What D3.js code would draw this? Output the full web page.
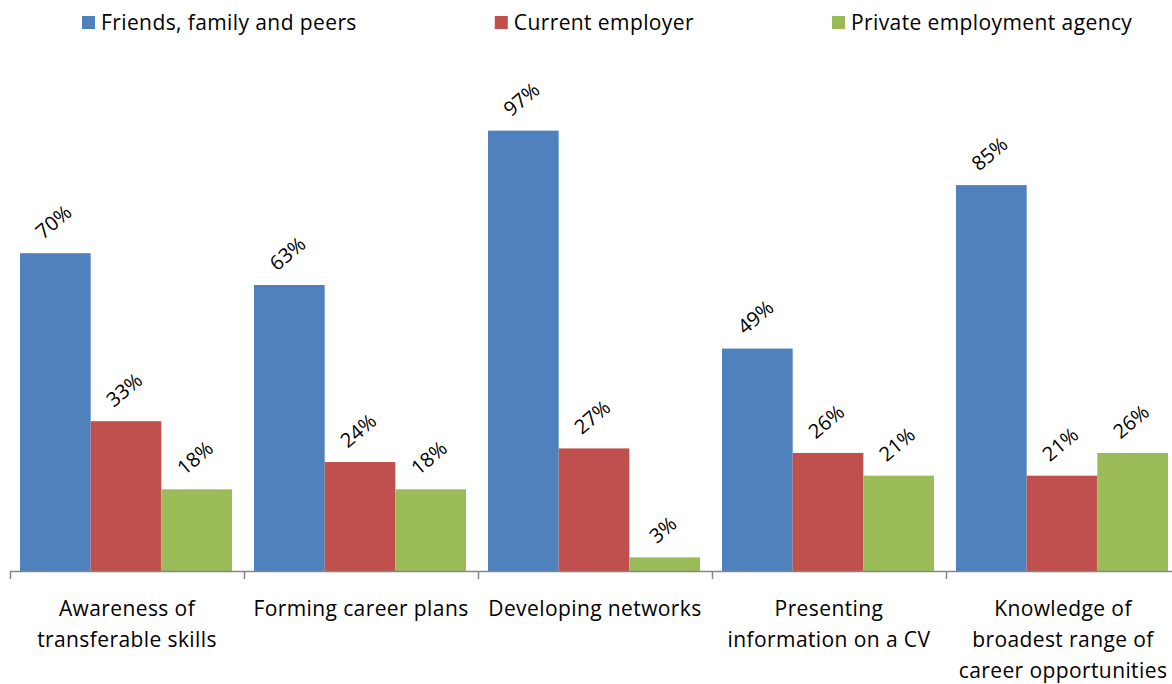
<!DOCTYPE html>
<html>
<head>
<meta charset="utf-8">
<script src="https://cdn.jsdelivr.net/npm/d3@7/dist/d3.min.js"></script>
<style>
  html, body { margin: 0; padding: 0; background: #fff; }
  svg { display: block; font-family: "Open Sans", Lato, "Liberation Sans", sans-serif; }
</style>
</head>
<body>
<svg id="chart" width="1172" height="684"></svg>
<script>
// Categories (line breaks mark where the axis label wraps)
const categories = [
  "Awareness of\ntransferable skills",
  "Forming career plans",
  "Developing networks",
  "Presenting\ninformation on a CV",
  "Knowledge of\nbroadest range of\ncareer opportunities"
];

const seriesNames = ["Friends, family and peers", "Current employer", "Private employment agency"];
const seriesColors = ["#4F81BD", "#C0504D", "#9BBB59"];

// Percentages per category, one array per series
const friendsValues  = [70, 63, 97, 49, 85];
const employerValues = [33, 24, 27, 26, 21];
const agencyValues   = [18, 18, 3, 21, 26];

const seriesValues = [friendsValues, employerValues, agencyValues];

const W = 1172, H = 684;
const FONT = 21;
const SPACING = 0.4;
const svg = d3.select("#chart");

const baseY = 571;
const x0 = d3.scaleBand().domain(categories).range([10, 1180]).padding(0);
const x1 = d3.scaleBand().domain(seriesNames).range([10, 222]).padding(0);
const y = d3.scaleLinear().domain([0, 100]).range([baseY, 117]);

// Bars
const groups = svg.append("g").selectAll("g")
  .data(categories)
  .join("g")
  .attr("transform", d => `translate(${x0(d)},0)`);

const cells = groups.selectAll("g.cell")
  .data((c, i) => seriesNames.map((s, j) => ({ series: s, j, value: seriesValues[j][i] })))
  .join("g").attr("class", "cell");

cells.append("rect")
  .attr("x", d => x1(d.series))
  .attr("y", d => y(d.value))
  .attr("width", x1.bandwidth())
  .attr("height", d => y(0) - y(d.value))
  .attr("fill", (d) => seriesColors[d.j]);

// Value labels, rotated above each bar
const angle = 40;
cells.append("text")
  .text(d => d.value + "%")
  .attr("font-size", FONT - 1)
  .attr("fill", "#000")
  .attr("text-anchor", "middle")
  .attr("dominant-baseline", "central")
  .each(function (d) {
    const len = this.getComputedTextLength();
    const cx = x1(d.series) + x1.bandwidth() / 2 - 2;
    const cy = y(d.value) - (19 + len * Math.sin(angle * Math.PI / 180) / 2);
    d3.select(this).attr("transform", `translate(${cx},${cy}) rotate(${-angle})`);
  });

// Category axis
const axis = svg.append("g");
axis.append("line")
  .attr("x1", 10).attr("x2", W)
  .attr("y1", baseY + 0.5).attr("y2", baseY + 0.5)
  .attr("stroke", "#868686").attr("stroke-width", 1.5);
axis.selectAll("line.tick")
  .data(categories)
  .join("line").attr("class", "tick")
  .attr("x1", d => Math.round(x0(d)) + 0.5).attr("x2", d => Math.round(x0(d)) + 0.5)
  .attr("y1", baseY).attr("y2", baseY + 8)
  .attr("stroke", "#868686").attr("stroke-width", 1.5);

const catLabels = axis.selectAll("text.cat")
  .data(categories)
  .join("text").attr("class", "cat")
  .attr("font-size", FONT)
  .attr("letter-spacing", SPACING)
  .attr("fill", "#000")
  .attr("text-anchor", "middle");
catLabels.selectAll("tspan")
  .data(d => d.split("\n").map(line => ({ line, cat: d })))
  .join("tspan")
  .attr("x", d => x0(d.cat) + x0.bandwidth() / 2)
  .attr("y", (d, i) => 616 + i * 31)
  .text(d => d.line);

// Legend, laid out left to right
const legend = svg.append("g");
let lx = 82;
seriesNames.forEach((name, j) => {
  legend.append("rect")
    .attr("x", lx).attr("y", 16)
    .attr("width", 13).attr("height", 13)
    .attr("fill", seriesColors[j]);
  const t = legend.append("text")
    .attr("x", lx + 19).attr("y", 30)
    .attr("font-size", FONT)
    .attr("letter-spacing", SPACING)
    .attr("fill", "#000")
    .text(name);
  lx += 19 + t.node().getComputedTextLength() + 138;
});
</script>
</body>
</html>
